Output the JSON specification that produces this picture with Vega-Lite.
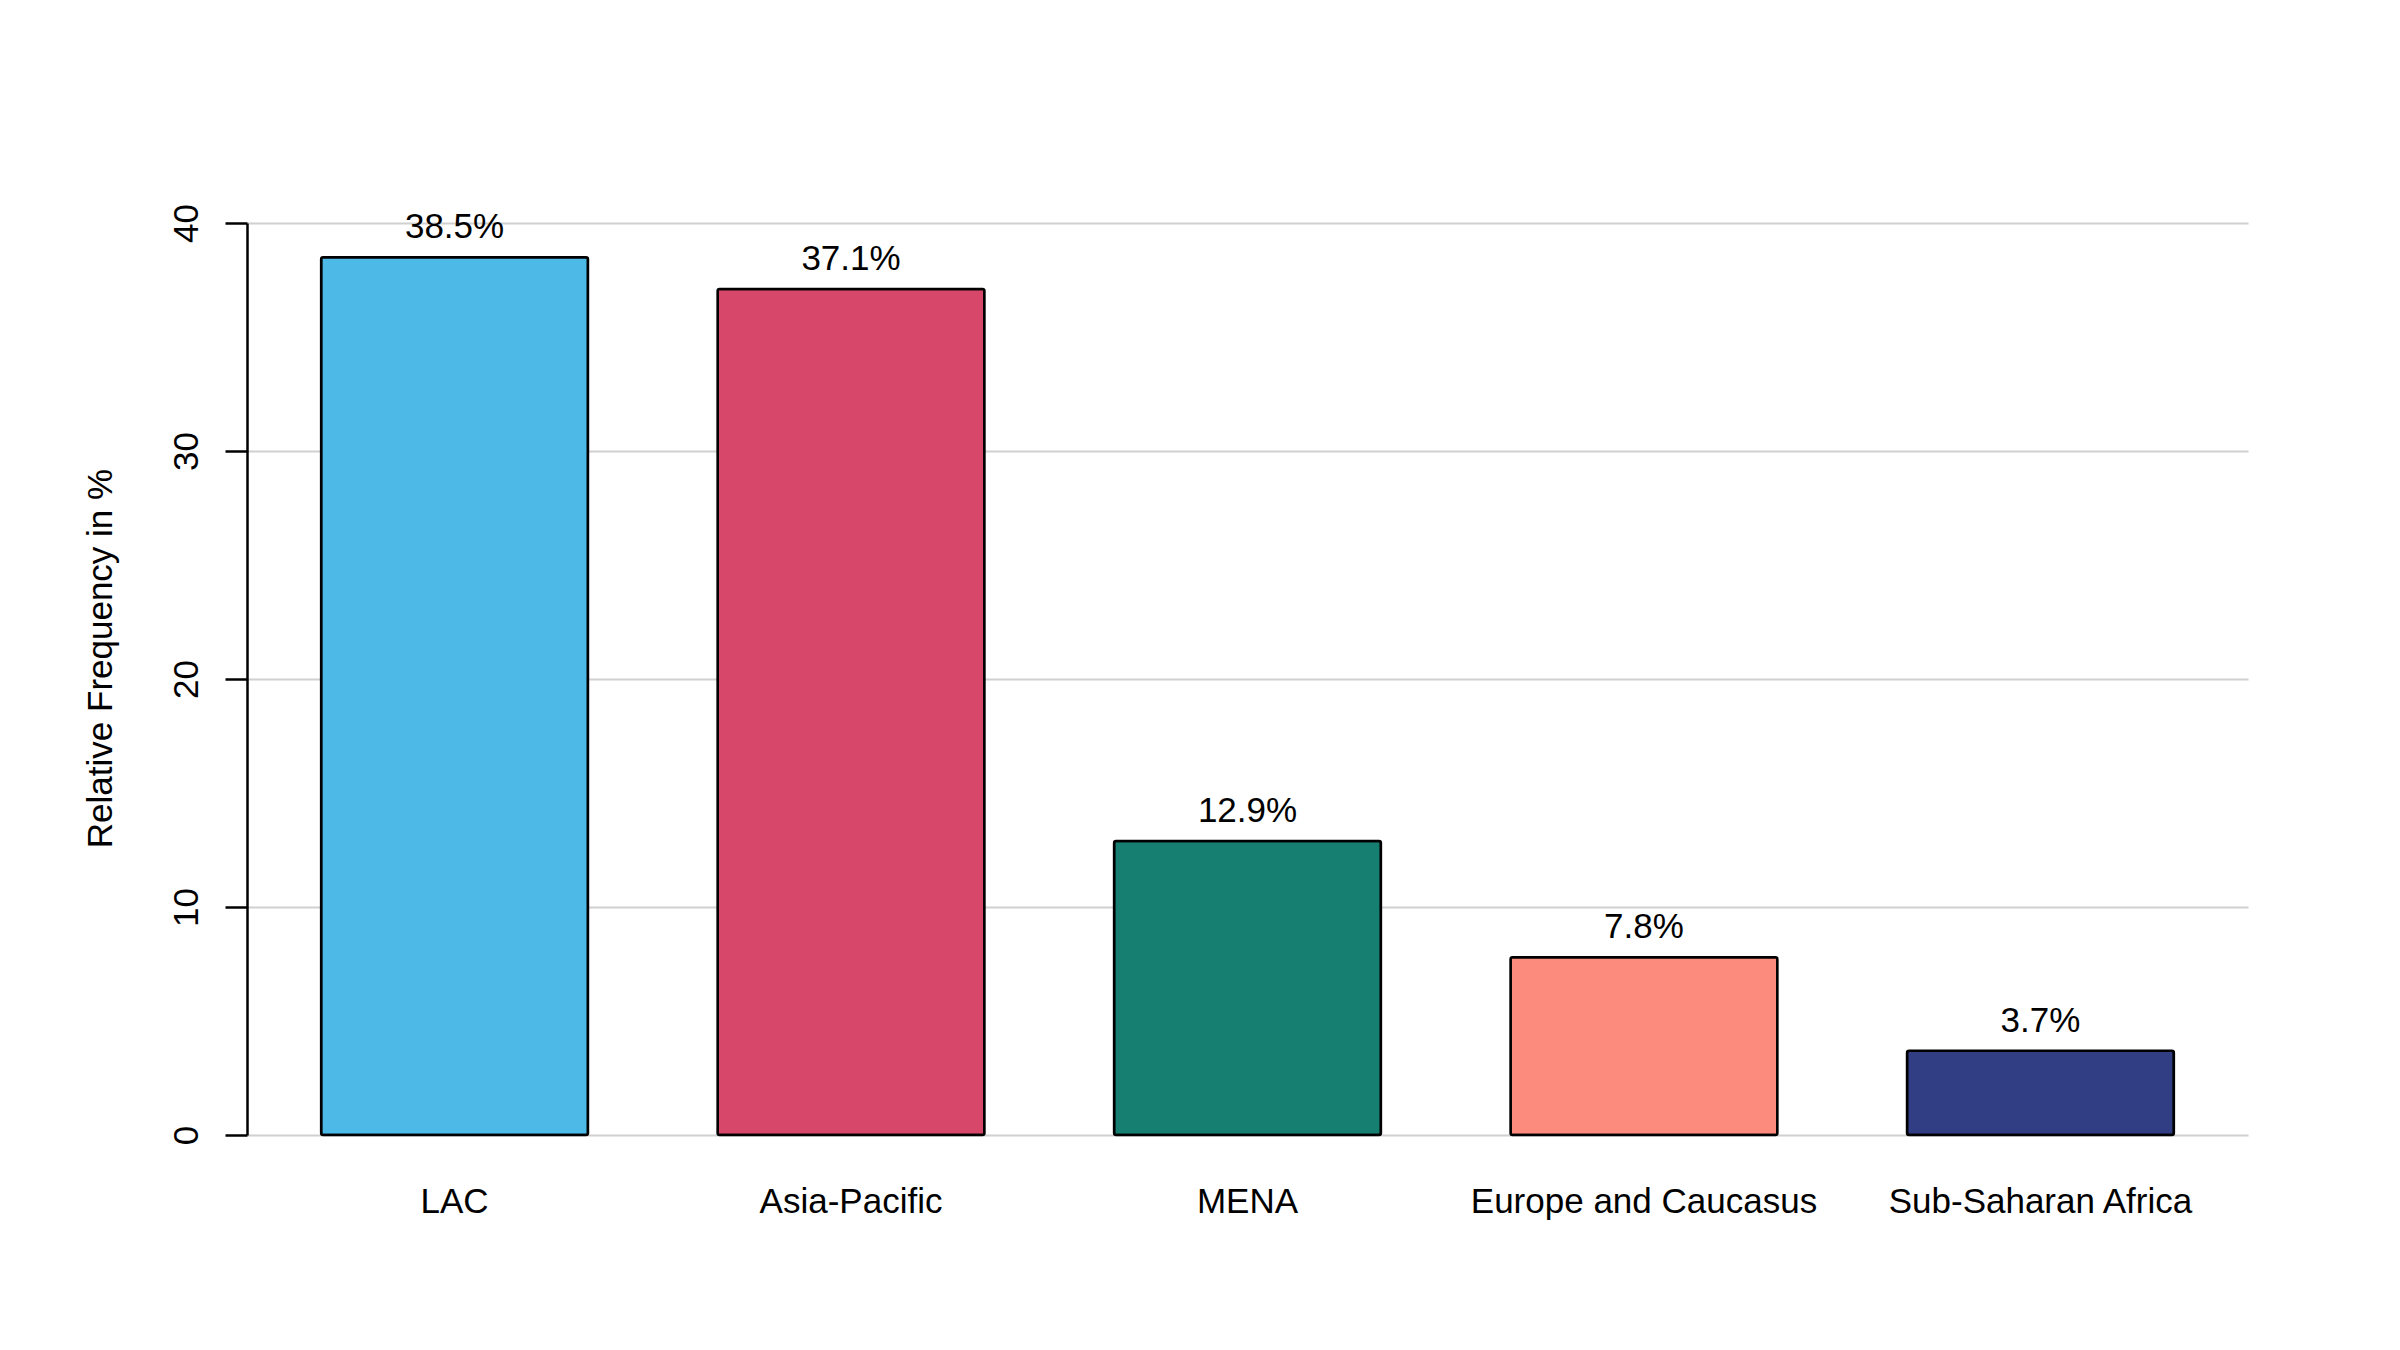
{
  "$schema": "https://vega.github.io/schema/vega-lite/v6.json",
  "autosize": {"type": "none"},
  "padding": {"left": 247, "top": 223, "right": 152, "bottom": 215},
  "width": 2001,
  "height": 912,
  "background": "white",
  "config": {
    "view": {"stroke": null},
    "font": "Liberation Sans",
    "axis": {"labelFont": "Liberation Sans", "titleFont": "Liberation Sans", "labelColor": "black", "titleColor": "black"}
  },
  "data": {
    "values": [
      {"region": "LAC", "value": 38.5},
      {"region": "Asia-Pacific", "value": 37.1},
      {"region": "MENA", "value": 12.9},
      {"region": "Europe and Caucasus", "value": 7.8},
      {"region": "Sub-Saharan Africa", "value": 3.7}
    ]
  },
  "transform": [{"calculate": "format(datum.value, '.1f') + '%'", "as": "label"}],
  "encoding": {
    "x": {
      "field": "region",
      "type": "nominal",
      "sort": null,
      "scale": {"paddingInner": 0.327, "paddingOuter": 0.187},
      "axis": {
        "title": null,
        "domain": false,
        "ticks": false,
        "grid": false,
        "labelAngle": 0,
        "labelFontSize": 35,
        "labelLimit": 0,
        "labelBaseline": "alphabetic",
        "labelPadding": 77
      }
    },
    "y": {
      "field": "value",
      "type": "quantitative",
      "scale": {"domain": [0, 40], "nice": false},
      "axis": {
        "title": "Relative Frequency in %",
        "values": [0, 10, 20, 30, 40],
        "grid": true,
        "gridColor": "#d0d0d0",
        "gridWidth": 2,
        "domainColor": "black",
        "domainWidth": 2.5,
        "tickColor": "black",
        "tickWidth": 2.5,
        "tickSize": 22,
        "labelAngle": -90,
        "labelAlign": "center",
        "labelBaseline": "alphabetic",
        "labelPadding": 28,
        "labelFontSize": 35,
        "titleFontSize": 35,
        "titleFontWeight": "normal",
        "titleAngle": -90,
        "titleAlign": "center",
        "titleBaseline": "alphabetic",
        "titleX": -136,
        "titleY": 435
      }
    }
  },
  "layer": [
    {
      "mark": {"type": "bar", "stroke": "black", "strokeWidth": 2.5, "strokeJoin": "round", "cornerRadius": 2},
      "encoding": {
        "color": {
          "field": "region",
          "type": "nominal",
          "sort": null,
          "legend": null,
          "scale": {
            "domain": ["LAC", "Asia-Pacific", "MENA", "Europe and Caucasus", "Sub-Saharan Africa"],
            "range": ["#4DB9E7", "#D64769", "#167F71", "#FC8B7E", "#313E84"]
          }
        }
      }
    },
    {
      "mark": {"type": "text", "fontSize": 35, "color": "black", "baseline": "alphabetic", "dy": -19, "font": "Liberation Sans"},
      "encoding": {"text": {"field": "label"}}
    }
  ]
}
